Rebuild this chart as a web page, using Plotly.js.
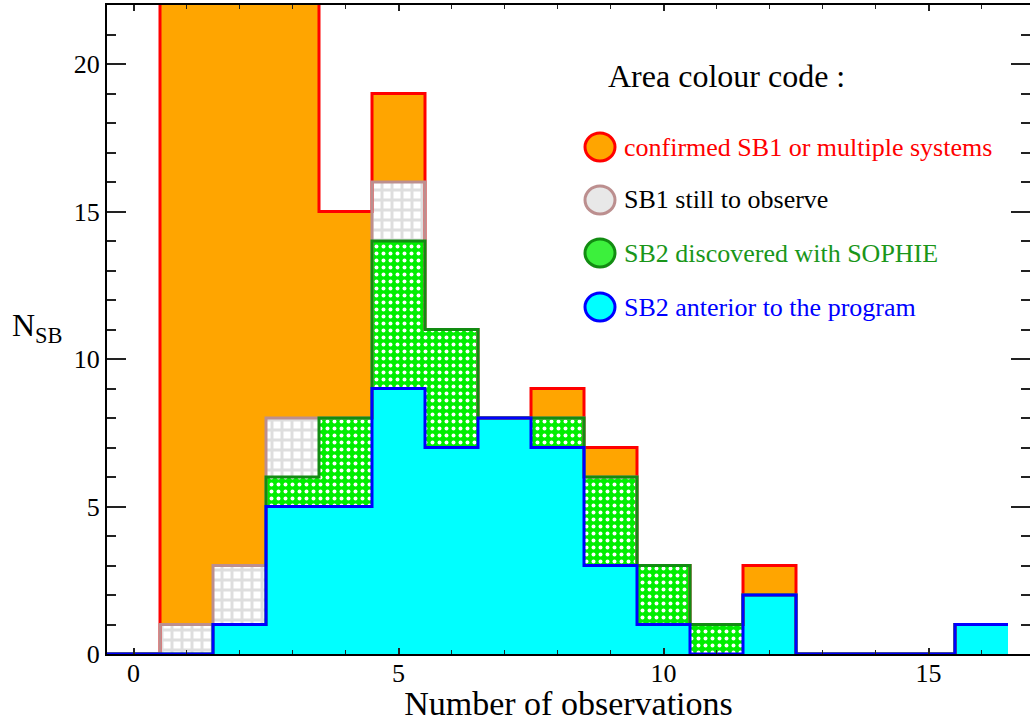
<!DOCTYPE html>
<html>
<head>
<meta charset="utf-8">
<script src="https://cdn.plot.ly/plotly-3.0.1.min.js"></script>
<style>html,body{margin:0;padding:0;background:#fff;}#chart{width:1030px;height:722px;}</style>
</head>
<body>
<div id="chart"></div>
<script>
// Number of observations (bin centres)
const bins = [0,1,2,3,4,5,6,7,8,9,10,11,12,13,14,15,16];
// counts per category (stacked from bottom)
const sb2Anterior   = [0,0,1,5,5,9,7,8,7,3,1,0,2,0,0,0,1];
const sb2Sophie     = [0,0,0,1,3,5,4,0,1,3,2,1,0,0,0,0,0];
const sb1ToObserve  = [0,1,2,2,0,2,0,0,0,0,0,0,0,0,0,0,0];
const sb1Confirmed  = [0,24,22,16,7,3,0,0,1,1,0,0,1,0,0,0,0];

const legendLabels = ["confirmed SB1 or multiple systems","SB1 still to observe","SB2 discovered with SOPHIE","SB2 anterior to the program"];
const legendTitle = "Area colour code :";
const xTitle = "Number of observations";

const FONT = "Liberation Serif";

// cumulative levels
function cum(arrs){ return bins.map((_,i)=>arrs.reduce((s,a)=>s+a[i],0)); }
const lvl1 = cum([sb2Anterior]);
const lvl2 = cum([sb2Anterior,sb2Sophie]);
const lvl3 = cum([sb2Anterior,sb2Sophie,sb1ToObserve]);
const lvl4 = cum([sb2Anterior,sb2Sophie,sb1ToObserve,sb1Confirmed]);

const edges = bins.map(b=>b-0.5).concat([bins[bins.length-1]+0.5]);
function stepY(a){ return a.concat([a[a.length-1]]); }

const fills = [
  {y:lvl1, fill:'tozeroy', fillcolor:'#00ffff'},
  {y:lvl2, fill:'tonexty', fillcolor:'#00ff00', fillpattern:{shape:'.', bgcolor:'#00ee00', fgcolor:'#ffffff', size:7, solidity:0.25}},
  {y:lvl3, fill:'tonexty', fillcolor:'#ffffff', fillpattern:{shape:'+', bgcolor:'#ffffff', fgcolor:'#dedede', size:10, solidity:0.5}},
  {y:lvl4, fill:'tonexty', fillcolor:'#ffa500'}
];
const traces = [];
fills.forEach(f=>{
  const t = {x:edges, y:stepY(f.y), type:'scatter', mode:'lines', line:{shape:'hv', width:0, color:'rgba(0,0,0,0)'},
    fill:f.fill, fillcolor:f.fillcolor, showlegend:false, hoverinfo:'skip'};
  if (f.fillpattern) t.fillpattern = f.fillpattern;
  traces.push(t);
});
// outlines, upper layers first so lower layers' outlines sit on top
[[lvl4,'#ff0000'],[lvl3,'#bc8f8f'],[lvl2,'#128c12'],[lvl1,'#0000ff']].forEach(([y,c])=>{
  traces.push({x:edges, y:stepY(y), type:'scatter', mode:'lines', line:{shape:'hv', width:3, color:c}, showlegend:false, hoverinfo:'skip'});
});

// legend built from annotations & shapes
const rowY = [147, 200, 253, 307];
const plotTop = 5, plotBot = 654, plotL = 107, plotR = 1030;
const py = v => (plotBot - v)/(plotBot - plotTop);
const px = v => (v - plotL)/(plotR - plotL);
const legColors = [
  {fill:'#ffa500', line:'#ff0000', text:'#ff0000'},
  {fill:'#e8e8e8', line:'#bc8f8f', text:'#000000'},
  {fill:'#3cf03c', line:'#128c12', text:'#1a961a'},
  {fill:'#00ffff', line:'#0000ff', text:'#0000ff'}
];
const annotations = [
  {xref:'paper', yref:'paper', x:px(606), y:py(76), xanchor:'left', yanchor:'middle', showarrow:false,
   text:legendTitle, font:{family:FONT, size:32, color:'#000'}},
  {xref:'paper', yref:'paper', x:px(10), y:py(328), xanchor:'left', yanchor:'middle', showarrow:false,
   text:'N<sub>SB</sub>', font:{family:FONT, size:32, color:'#000'}}
];
const shapes = [];
legendLabels.forEach((lab,i)=>{
  annotations.push({xref:'paper', yref:'paper', x:px(622), y:py(rowY[i]), xanchor:'left', yanchor:'middle', showarrow:false,
    text:lab, font:{family:FONT, size:26, color:legColors[i].text}});
  shapes.push({type:'circle', xref:'paper', yref:'paper', xsizemode:'pixel', ysizemode:'pixel',
    xanchor:px(600), yanchor:py(rowY[i]), x0:-15, x1:15, y0:-14, y1:14,
    fillcolor:legColors[i].fill, line:{color:legColors[i].line, width:3}});
});

const axisCommon = {showline:true, linecolor:'#000', linewidth:2, mirror:'ticks', ticks:'inside',
  showgrid:false, zeroline:false, tickfont:{family:FONT, size:26, color:'#000'}, tickcolor:'#222', tickwidth:2};

const layout = {
  width:1030, height:722,
  font:{family:FONT, color:'#000'},
  margin:{l:plotL, r:0, t:plotTop, b:722-plotBot},
  paper_bgcolor:'#fff', plot_bgcolor:'#fff',
  showlegend:false,
  xaxis:Object.assign({}, axisCommon, {range:[-0.5,16.915], dtick:5, tick0:0, ticklen:6, ticklabelstandoff:-5,
    minor:{dtick:1, ticklen:4, ticks:'inside', tickcolor:'#222', tickwidth:1.5},
    title:{text:xTitle, font:{family:FONT, size:34, color:'#000'}, standoff:8}}),
  yaxis:Object.assign({}, axisCommon, {range:[0,22], dtick:5, tick0:0, ticklen:19,
    minor:{dtick:1, ticklen:9, ticks:'inside', tickcolor:'#222', tickwidth:2}}),
  annotations:annotations,
  shapes:shapes
};

Plotly.newPlot('chart', traces, layout, {staticPlot:true, displayModeBar:false});
</script>
</body>
</html>
